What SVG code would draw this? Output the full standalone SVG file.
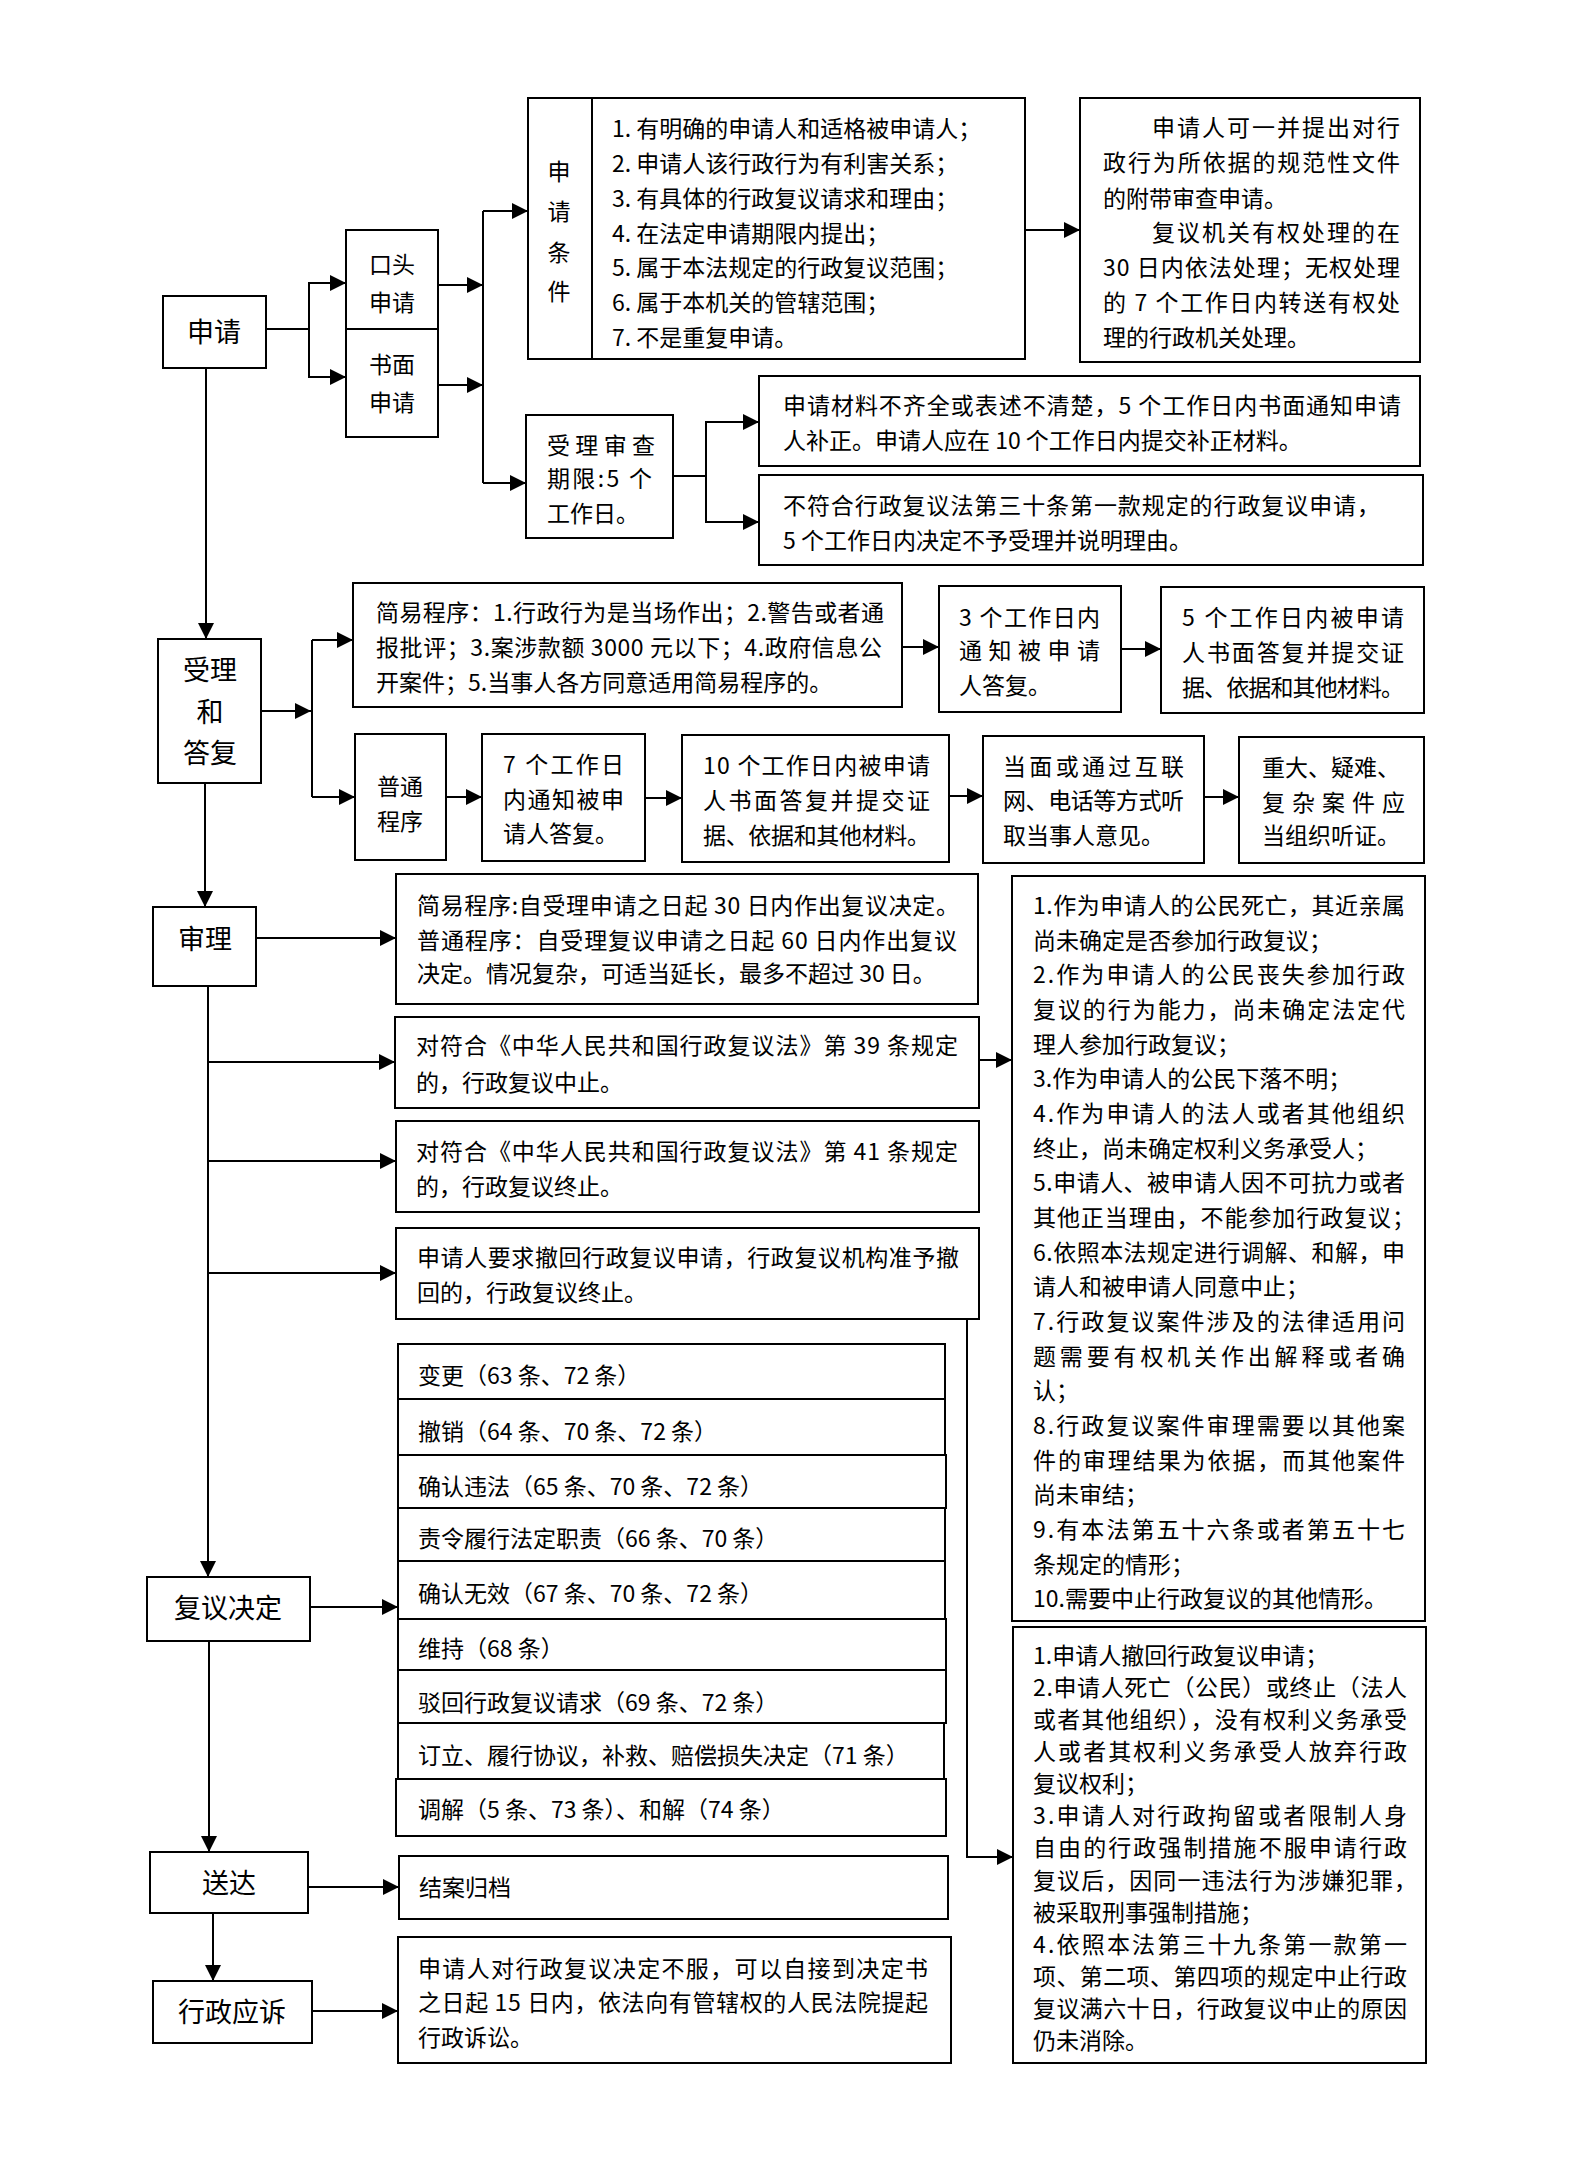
<svg xmlns="http://www.w3.org/2000/svg" width="1587" height="2160" viewBox="0 0 1587 2160">
<defs>
<marker id="a" markerUnits="userSpaceOnUse" markerWidth="16" markerHeight="16" refX="16" refY="8" orient="auto"><path d="M0,0 L16,8 L0,16 z" fill="#000"/></marker>
<style>
.b{fill:#fff;stroke:#000;stroke-width:2}
.t{font-family:"Noto Sans CJK SC","Noto Sans",sans-serif;font-size:23px;fill:#000}
.L{font-size:27px}
.m{text-anchor:middle}
.c{fill:none;stroke:#000;stroke-width:2;marker-end:url(#a)}
.n{fill:none;stroke:#000;stroke-width:2}
</style>
</defs>
<rect width="1587" height="2160" fill="#fff"/>

<g id="connectors">
<path class="c" d="M266,329 H309 V283 H346"/>
<path class="c" d="M309,329 V377 H346"/>
<path class="c" d="M438,285 H483"/>
<path class="c" d="M438,385 H483"/>
<path class="n" d="M483,211 V483"/>
<path class="c" d="M483,211 H528"/>
<path class="c" d="M483,483 H526"/>
<path class="c" d="M1025,230 H1080"/>
<path class="c" d="M673,476 H706 V422 H759"/>
<path class="c" d="M706,476 V522 H759"/>
<path class="c" d="M206,368 V639"/>
<path class="c" d="M261,711 H311"/>
<path class="n" d="M312,640 V797"/>
<path class="c" d="M312,640 H353"/>
<path class="c" d="M312,797 H355"/>
<path class="c" d="M902,647 H939"/>
<path class="c" d="M1121,649 H1161"/>
<path class="c" d="M446,797 H482"/>
<path class="c" d="M645,798 H682"/>
<path class="c" d="M949,796 H983"/>
<path class="c" d="M1204,797 H1239"/>
<path class="c" d="M205,783 V907"/>
<path class="c" d="M256,938 H396"/>
<path class="c" d="M208,986 V1577"/>
<path class="c" d="M208,1062 H395"/>
<path class="c" d="M208,1161 H396"/>
<path class="c" d="M208,1273 H396"/>
<path class="c" d="M979,1060 H1012"/>
<path class="c" d="M967,1319 V1857 H1013"/>
<path class="c" d="M310,1607 H398"/>
<path class="c" d="M209,1641 V1852"/>
<path class="c" d="M308,1887 H399"/>
<path class="c" d="M213,1913 V1981"/>
<path class="c" d="M312,2011 H398"/>
</g>

<g id="n-shenqing">
<rect class="b" x="163" y="296" width="103" height="72"/>
<text class="t L m" x="214" y="342">申请</text>
</g>
<g id="n-koutou">
<rect class="b" x="346" y="230" width="92" height="99"/>
<text class="t m" x="392" y="273">口头</text>
<text class="t m" x="392" y="311">申请</text>
</g>
<g id="n-shumian">
<rect class="b" x="346" y="329" width="92" height="108"/>
<text class="t m" x="392" y="373">书面</text>
<text class="t m" x="392" y="411">申请</text>
</g>
<g id="n-tiaojian-label">
<rect class="b" x="528" y="98" width="64" height="261"/>
<text class="t m" x="559" y="180">申</text>
<text class="t m" x="559" y="220">请</text>
<text class="t m" x="559" y="261">条</text>
<text class="t m" x="559" y="300">件</text>
</g>
<g id="n-tiaojian-list">
<rect class="b" x="592" y="98" width="433" height="261"/>
<text class="t" x="612" y="137">1. 有明确的申请人和适格被申请人；</text>
<text class="t" x="612" y="172">2. 申请人该行政行为有利害关系；</text>
<text class="t" x="612" y="207">3. 有具体的行政复议请求和理由；</text>
<text class="t" x="612" y="242">4. 在法定申请期限内提出；</text>
<text class="t" x="612" y="276">5. 属于本法规定的行政复议范围；</text>
<text class="t" x="612" y="311">6. 属于本机关的管辖范围；</text>
<text class="t" x="612" y="346">7. 不是重复申请。</text>
</g>
<g id="n-fudai">
<rect class="b" x="1080" y="98" width="340" height="264"/>
<text class="t" x="1152" y="136" textLength="248">申请人可一并提出对行</text>
<text class="t" x="1103" y="171" textLength="297">政行为所依据的规范性文件</text>
<text class="t" x="1103" y="207">的附带审查申请。</text>
<text class="t" x="1152" y="241" textLength="248">复议机关有权处理的在</text>
<text class="t" x="1103" y="276" textLength="297">30 日内依法处理；无权处理</text>
<text class="t" x="1103" y="311" textLength="297">的 7 个工作日内转送有权处</text>
<text class="t" x="1103" y="346">理的行政机关处理。</text>
</g>
<g id="n-shencha">
<rect class="b" x="526" y="415" width="147" height="123"/>
<text class="t" x="547" y="454" textLength="108">受理审查</text>
<text class="t" x="547" y="487" textLength="105">期限:5 个</text>
<text class="t" x="547" y="522">工作日。</text>
</g>
<g id="n-buzheng">
<rect class="b" x="759" y="376" width="661" height="90"/>
<text class="t" x="783" y="414" textLength="618">申请材料不齐全或表述不清楚，5 个工作日内书面通知申请</text>
<text class="t" x="783" y="449">人补正。申请人应在 10 个工作日内提交补正材料。</text>
</g>
<g id="n-bushouli">
<rect class="b" x="759" y="475" width="664" height="90"/>
<text class="t" x="783" y="514" textLength="597">不符合行政复议法第三十条第一款规定的行政复议申请，</text>
<text class="t" x="783" y="549">5 个工作日内决定不予受理并说明理由。</text>
</g>

<g id="n-shouli">
<rect class="b" x="158" y="639" width="103" height="144"/>
<text class="t L m" x="210" y="680">受理</text>
<text class="t L m" x="210" y="722">和</text>
<text class="t L m" x="210" y="763">答复</text>
</g>
<g id="n-jianyi">
<rect class="b" x="353" y="583" width="549" height="124"/>
<text class="t" x="376" y="621" textLength="508">简易程序：1.行政行为是当场作出；2.警告或者通</text>
<text class="t" x="376" y="656" textLength="506">报批评；3.案涉款额 3000 元以下；4.政府信息公</text>
<text class="t" x="376" y="691">开案件；5.当事人各方同意适用简易程序的。</text>
</g>
<g id="n-3day">
<rect class="b" x="939" y="586" width="182" height="126"/>
<text class="t" x="959" y="626" textLength="141">3 个工作日内</text>
<text class="t" x="959" y="659" textLength="141">通知被申请</text>
<text class="t" x="959" y="694">人答复。</text>
</g>
<g id="n-5day">
<rect class="b" x="1161" y="587" width="263" height="126"/>
<text class="t" x="1182" y="626" textLength="222">5 个工作日内被申请</text>
<text class="t" x="1182" y="661" textLength="222">人书面答复并提交证</text>
<text class="t" x="1182" y="696" textLength="222">据、依据和其他材料。</text>
</g>
<g id="n-putong">
<rect class="b" x="355" y="734" width="91" height="126"/>
<text class="t m" x="400" y="795">普通</text>
<text class="t m" x="400" y="830">程序</text>
</g>
<g id="n-7day">
<rect class="b" x="482" y="734" width="163" height="127"/>
<text class="t" x="503" y="773" textLength="121">7 个工作日</text>
<text class="t" x="503" y="808" textLength="121">内通知被申</text>
<text class="t" x="503" y="842">请人答复。</text>
</g>
<g id="n-10day">
<rect class="b" x="682" y="735" width="267" height="127"/>
<text class="t" x="703" y="774" textLength="227">10 个工作日内被申请</text>
<text class="t" x="703" y="809" textLength="227">人书面答复并提交证</text>
<text class="t" x="703" y="844" textLength="227">据、依据和其他材料。</text>
</g>
<g id="n-tingqu">
<rect class="b" x="983" y="736" width="221" height="127"/>
<text class="t" x="1003" y="775" textLength="181">当面或通过互联</text>
<text class="t" x="1003" y="809" textLength="181">网、电话等方式听</text>
<text class="t" x="1003" y="844">取当事人意见。</text>
</g>
<g id="n-tingzheng">
<rect class="b" x="1239" y="737" width="185" height="126"/>
<text class="t" x="1262" y="776">重大、疑难、</text>
<text class="t" x="1262" y="811" textLength="143">复杂案件应</text>
<text class="t" x="1262" y="844">当组织听证。</text>
</g>

<g id="n-shenli">
<rect class="b" x="153" y="907" width="103" height="79"/>
<text class="t L m" x="205" y="949">审理</text>
</g>
<g id="n-qixian">
<rect class="b" x="396" y="874" width="582" height="130"/>
<text class="t" x="417" y="914" textLength="542">简易程序:自受理申请之日起 30 日内作出复议决定。</text>
<text class="t" x="417" y="949" textLength="540">普通程序：自受理复议申请之日起 60 日内作出复议</text>
<text class="t" x="417" y="982">决定。情况复杂，可适当延长，最多不超过 30 日。</text>
</g>
<g id="n-zhongzhi39">
<rect class="b" x="395" y="1017" width="584" height="91"/>
<text class="t" x="416" y="1054" textLength="542">对符合《中华人民共和国行政复议法》第 39 条规定</text>
<text class="t" x="416" y="1091">的，行政复议中止。</text>
</g>
<g id="n-zhongzhi41">
<rect class="b" x="396" y="1121" width="583" height="91"/>
<text class="t" x="416" y="1160" textLength="542">对符合《中华人民共和国行政复议法》第 41 条规定</text>
<text class="t" x="416" y="1195">的，行政复议终止。</text>
</g>
<g id="n-chehui">
<rect class="b" x="396" y="1228" width="583" height="91"/>
<text class="t" x="417" y="1266" textLength="542">申请人要求撤回行政复议申请，行政复议机构准予撤</text>
<text class="t" x="417" y="1301">回的，行政复议终止。</text>
</g>
<g id="n-zhongzhi-reasons">
<rect class="b" x="1012" y="876" width="413" height="745"/>
<text class="t" x="1033" y="914" textLength="372">1.作为申请人的公民死亡，其近亲属</text>
<text class="t" x="1033" y="949">尚未确定是否参加行政复议；</text>
<text class="t" x="1033" y="983" textLength="372">2.作为申请人的公民丧失参加行政</text>
<text class="t" x="1033" y="1018" textLength="372">复议的行为能力，尚未确定法定代</text>
<text class="t" x="1033" y="1053">理人参加行政复议；</text>
<text class="t" x="1033" y="1087">3.作为申请人的公民下落不明；</text>
<text class="t" x="1033" y="1122" textLength="372">4.作为申请人的法人或者其他组织</text>
<text class="t" x="1033" y="1157">终止，尚未确定权利义务承受人；</text>
<text class="t" x="1033" y="1191" textLength="372">5.申请人、被申请人因不可抗力或者</text>
<text class="t" x="1033" y="1226" textLength="382">其他正当理由，不能参加行政复议；</text>
<text class="t" x="1033" y="1261" textLength="372">6.依照本法规定进行调解、和解，申</text>
<text class="t" x="1033" y="1295">请人和被申请人同意中止；</text>
<text class="t" x="1033" y="1330" textLength="372">7.行政复议案件涉及的法律适用问</text>
<text class="t" x="1033" y="1365" textLength="372">题需要有权机关作出解释或者确</text>
<text class="t" x="1033" y="1399">认；</text>
<text class="t" x="1033" y="1434" textLength="372">8.行政复议案件审理需要以其他案</text>
<text class="t" x="1033" y="1469" textLength="372">件的审理结果为依据，而其他案件</text>
<text class="t" x="1033" y="1503">尚未审结；</text>
<text class="t" x="1033" y="1538" textLength="372">9.有本法第五十六条或者第五十七</text>
<text class="t" x="1033" y="1573">条规定的情形；</text>
<text class="t" x="1033" y="1607">10.需要中止行政复议的其他情形。</text>
</g>
<g id="n-zhongzhi-end">
<rect class="b" x="1013" y="1627" width="413" height="436"/>
<text class="t" x="1033" y="1664">1.申请人撤回行政复议申请；</text>
<text class="t" x="1033" y="1696" textLength="374">2.申请人死亡（公民）或终止（法人</text>
<text class="t" x="1033" y="1728" textLength="374">或者其他组织），没有权利义务承受</text>
<text class="t" x="1033" y="1760" textLength="374">人或者其权利义务承受人放弃行政</text>
<text class="t" x="1033" y="1792">复议权利；</text>
<text class="t" x="1033" y="1824" textLength="374">3.申请人对行政拘留或者限制人身</text>
<text class="t" x="1033" y="1856" textLength="374">自由的行政强制措施不服申请行政</text>
<text class="t" x="1033" y="1889" textLength="384">复议后，因同一违法行为涉嫌犯罪，</text>
<text class="t" x="1033" y="1921">被采取刑事强制措施；</text>
<text class="t" x="1033" y="1953" textLength="374">4.依照本法第三十九条第一款第一</text>
<text class="t" x="1033" y="1985" textLength="374">项、第二项、第四项的规定中止行政</text>
<text class="t" x="1033" y="2017" textLength="374">复议满六十日，行政复议中止的原因</text>
<text class="t" x="1033" y="2049">仍未消除。</text>
</g>

<g id="n-jueding">
<rect class="b" x="147" y="1577" width="163" height="64"/>
<text class="t L m" x="228" y="1618">复议决定</text>
</g>
<g id="n-jueding-types">
<rect class="b" x="398" y="1344" width="547" height="55"/>
<text class="t" x="418" y="1384">变更（63 条、72 条）</text>
<rect class="b" x="398" y="1399" width="547" height="56"/>
<text class="t" x="418" y="1440">撤销（64 条、70 条、72 条）</text>
<rect class="b" x="398" y="1455" width="548" height="53"/>
<text class="t" x="418" y="1495">确认违法（65 条、70 条、72 条）</text>
<rect class="b" x="398" y="1508" width="547" height="53"/>
<text class="t" x="418" y="1547">责令履行法定职责（66 条、70 条）</text>
<rect class="b" x="398" y="1561" width="547" height="58"/>
<text class="t" x="418" y="1602">确认无效（67 条、70 条、72 条）</text>
<rect class="b" x="398" y="1619" width="548" height="51"/>
<text class="t" x="418" y="1657">维持（68 条）</text>
<rect class="b" x="398" y="1670" width="548" height="53"/>
<text class="t" x="418" y="1711">驳回行政复议请求（69 条、72 条）</text>
<rect class="b" x="398" y="1723" width="546" height="56"/>
<text class="t" x="418" y="1764">订立、履行协议，补救、赔偿损失决定（71 条）</text>
<rect class="b" x="396" y="1779" width="550" height="57"/>
<text class="t" x="418" y="1818">调解（5 条、73 条）、和解（74 条）</text>
</g>

<g id="n-songda">
<rect class="b" x="150" y="1852" width="158" height="61"/>
<text class="t L m" x="229" y="1893">送达</text>
</g>
<g id="n-guidang">
<rect class="b" x="399" y="1856" width="549" height="63"/>
<text class="t" x="419" y="1896">结案归档</text>
</g>
<g id="n-yingsu">
<rect class="b" x="153" y="1981" width="159" height="62"/>
<text class="t L m" x="232" y="2022">行政应诉</text>
</g>
<g id="n-susong">
<rect class="b" x="398" y="1937" width="553" height="126"/>
<text class="t" x="418" y="1977" textLength="510">申请人对行政复议决定不服，可以自接到决定书</text>
<text class="t" x="418" y="2011" textLength="510">之日起 15 日内，依法向有管辖权的人民法院提起</text>
<text class="t" x="418" y="2046">行政诉讼。</text>
</g>
</svg>
